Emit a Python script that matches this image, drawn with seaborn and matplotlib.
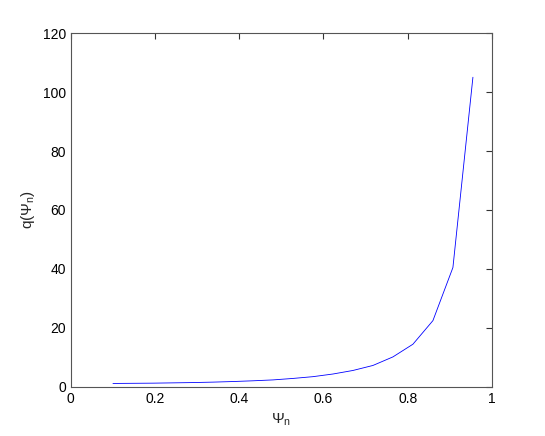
import numpy as np
import pandas as pd
import seaborn as sns
import matplotlib.pyplot as plt

# normalised flux and safety factor
psi_n = [0.1, 0.1475, 0.195, 0.2425, 0.29, 0.3375, 0.385, 0.4325, 0.48,
         0.5275, 0.575, 0.6225, 0.67, 0.7175, 0.765, 0.8125, 0.86, 0.9075, 0.955]
q_vals = [1.2, 1.25, 1.3, 1.4, 1.5, 1.65, 1.85, 2.1, 2.4,
          2.9, 3.5, 4.4, 5.6, 7.3, 10.2, 14.5, 22.5, 40.5, 105.0]

df = pd.DataFrame({'psi': psi_n, 'q': q_vals})

sns.set_style('white')
plt.rcParams['font.family'] = ['Liberation Sans', 'DejaVu Sans']
plt.rcParams['mathtext.fontset'] = 'custom'
plt.rcParams['mathtext.rm'] = 'Liberation Sans'
plt.rcParams['mathtext.it'] = 'Liberation Sans'

fig = plt.figure(figsize=(5.45, 4.36), dpi=100)
ax = fig.add_axes([0.13, 0.1124, 0.7725, 0.8119])
sns.lineplot(data=df, x='psi', y='q', color='#0000ff', linewidth=0.6, ax=ax)

ax.set_xlim(0, 1)
ax.set_ylim(0, 120)
ax.set_xticks(np.arange(0, 1.01, 0.2))
ax.set_xticklabels(['0', '0.2', '0.4', '0.6', '0.8', '1'])
ax.set_yticks(np.arange(0, 121, 20))
ax.tick_params(direction='in', length=4, width=0.8, labelsize=10,
               top=True, right=True, colors='#333333', labelcolor='black')
for s in ax.spines.values():
    s.set_color('#555555')
    s.set_linewidth(0.8)

ax.set_xlabel(r'$\Psi_{\rm n}$', fontsize=11)
ax.set_ylabel(r'q($\Psi_{\rm n}$)', fontsize=11)

fig.savefig('out.png', dpi=100)
